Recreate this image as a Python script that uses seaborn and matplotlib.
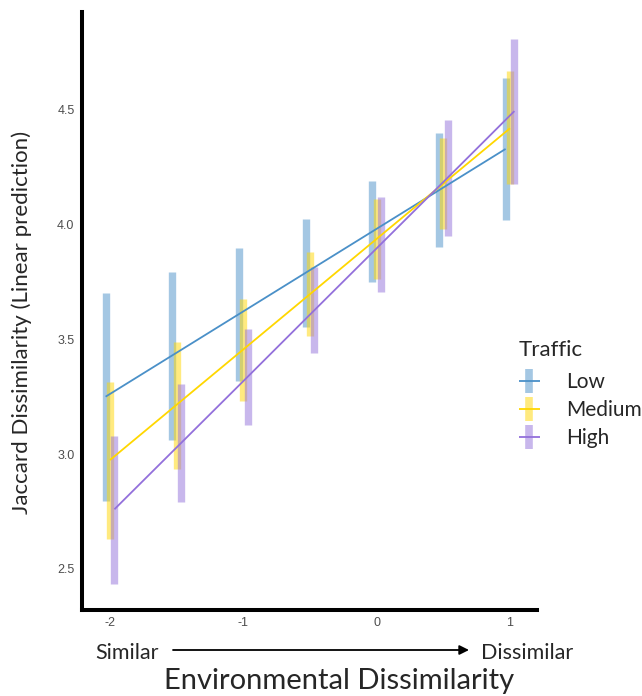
import pandas as pd
import matplotlib
matplotlib.use("Agg")
import matplotlib.pyplot as plt
from matplotlib.lines import Line2D
from matplotlib.legend_handler import HandlerTuple
import seaborn as sns

# environmental dissimilarity levels (x) and traffic groups
env_levels = [-2, -1.5, -1, -0.5, 0, 0.5, 1]
traffic = ["Low", "Medium", "High"]

# linear predictions and confidence limits
low_fit = [3.25, 3.43, 3.61, 3.79, 3.97, 4.15, 4.33]
low_lo = [2.795, 3.062, 3.320, 3.555, 3.752, 3.901, 4.022]
low_hi = [3.701, 3.794, 3.898, 4.024, 4.189, 4.398, 4.641]

med_fit = [2.974, 3.215, 3.456, 3.697, 3.938, 4.179, 4.420]
med_lo = [2.631, 2.936, 3.232, 3.514, 3.765, 3.981, 4.179]
med_hi = [3.314, 3.489, 3.677, 3.881, 4.112, 4.379, 4.670]

high_fit = [2.759, 3.048, 3.337, 3.627, 3.916, 4.205, 4.495]
high_lo = [2.435, 2.789, 3.126, 3.439, 3.708, 3.952, 4.179]
high_hi = [3.078, 3.305, 3.545, 3.817, 4.121, 4.456, 4.810]

y_ticks = [2.5, 3.0, 3.5, 4.0, 4.5]
x_ticks = [-2, -1, 0, 1]

pal = {"Low": "#4A90C8", "Medium": "#FFD700", "High": "#9370DB"}
dodge = {"Low": -0.033, "Medium": 0.0, "High": 0.033}

fits = {"Low": low_fit, "Medium": med_fit, "High": high_fit}
los = {"Low": low_lo, "Medium": med_lo, "High": high_lo}
his = {"Low": low_hi, "Medium": med_hi, "High": high_hi}

fit_rows = []
ci_rows = []
for g in traffic:
    for i, x in enumerate(env_levels):
        xp = x + dodge[g]
        fit_rows.append({"xpos": xp, "Traffic": g, "value": fits[g][i]})
        seg = g + str(i)
        ci_rows.append({"xpos": xp, "Traffic": g, "value": los[g][i], "seg": seg})
        ci_rows.append({"xpos": xp, "Traffic": g, "value": his[g][i], "seg": seg})
fit_df = pd.DataFrame(fit_rows)
ci_df = pd.DataFrame(ci_rows)

sns.set_style("white")
plt.rcParams["lines.solid_capstyle"] = "butt"
plt.rcParams["font.family"] = ["Liberation Sans", "DejaVu Sans"]
label_font = ["Lato", "DejaVu Sans"]

W, H = 642, 696
fig = plt.figure(figsize=(W / 100, H / 100), dpi=100)
ax = fig.add_axes([82 / W, 1 - 610 / H, (537 - 82) / W, (610 - 12) / H])

sns.lineplot(data=ci_df, x="xpos", y="value", hue="Traffic", units="seg",
             estimator=None, sort=False, palette=pal, lw=5.3, alpha=0.5,
             legend=False, ax=ax)
sns.lineplot(data=fit_df, x="xpos", y="value", hue="Traffic", estimator=None,
             palette=pal, lw=1.3, legend=False, ax=ax)
for ln in ax.lines:
    ln.set_clip_on(False)

ax.set_xlim(-2.21, 1.2025)
ax.set_ylim(2.32, 4.927)
ax.set_xticks(x_ticks)
ax.set_xticklabels([str(v) for v in x_ticks])
ax.set_yticks(y_ticks)
ax.set_yticklabels(["%.1f" % v for v in y_ticks])
ax.tick_params(axis="both", direction="out", length=2.4, width=0.9,
               color="#333333", labelcolor="#4D4D4D", labelsize=9, pad=3)
ax.tick_params(axis="x", pad=2.5)
ax.set_xlabel("")
ax.set_ylabel("")
for side in ["top", "right"]:
    ax.spines[side].set_visible(False)
for side in ["left", "bottom"]:
    ax.spines[side].set_linewidth(2.9)
    ax.spines[side].set_color("black")

fig.text(22 / W, 1 - 322 / H, "Jaccard Dissimilarity (Linear prediction)",
         rotation=90, ha="center", va="center", fontsize=16, family=label_font)
fig.text(127.5 / W, 1 - 653 / H, "Similar", ha="center", va="center",
         fontsize=15.5, family=label_font)
fig.text(527.5 / W, 1 - 653 / H, "Dissimilar", ha="center", va="center",
         fontsize=15.5, family=label_font)
ax.annotate("", xy=(469 / W, 1 - 650 / H), xytext=(173 / W, 1 - 650 / H),
            xycoords="figure fraction", textcoords="figure fraction",
            arrowprops=dict(arrowstyle="-|>", color="black", lw=1.3,
                            mutation_scale=14, shrinkA=0, shrinkB=0))
fig.text(339.5 / W, 1 - 689 / H, "Environmental Dissimilarity", ha="center",
         va="baseline", fontsize=21, family=label_font)

handles = []
for g in traffic:
    bar = Line2D([], [], marker="|", markersize=17.5, markeredgewidth=5.5,
                 color=pal[g], alpha=0.5, linestyle="none")
    line = Line2D([], [], color=pal[g], lw=1.3)
    handles.append((bar, line))
leg = ax.legend(handles, traffic, title="Traffic", loc="upper left",
                bbox_to_anchor=(519 / W, 1 - 340 / H), bbox_transform=fig.transFigure,
                frameon=False, handler_map={tuple: HandlerTuple(ndivide=1)},
                handlelength=1.0, handletextpad=1.25, labelspacing=0.38,
                borderpad=0, borderaxespad=0, alignment="left",
                prop={"family": label_font, "size": 15},
                title_fontproperties={"family": label_font, "size": 16})
leg._legend_box.sep = 9

fig.savefig("out.png", dpi=100)
